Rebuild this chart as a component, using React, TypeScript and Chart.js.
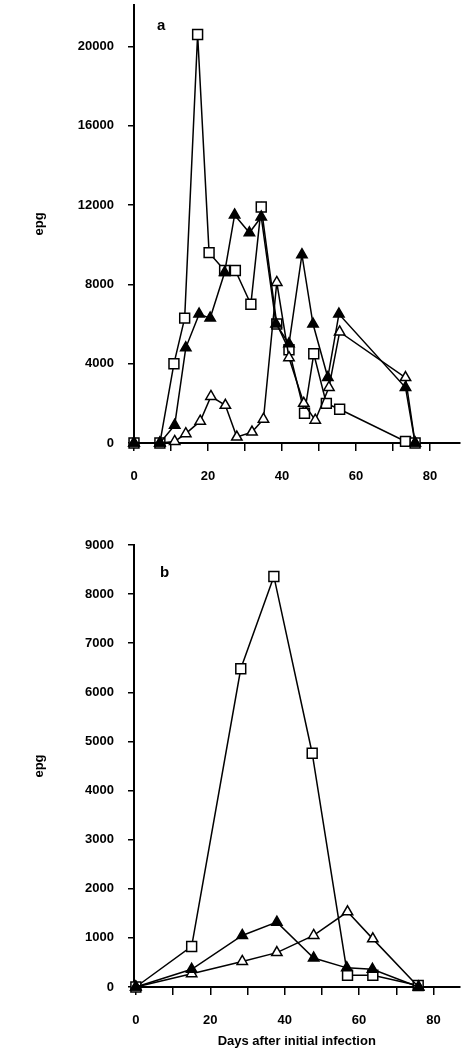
import { useEffect, useRef } from "react"
import { Chart, registerables } from "chart.js"

Chart.register(...registerables)

// Panel a
const aSquareDays = [0, 7, 10.8, 13.7, 17.2, 20.3, 24.5, 27.4, 31.6, 34.4, 38.6, 41.9, 46.1, 48.6, 52, 55.6, 73.4, 76]
const aSquareEpg = [0, 0, 4000, 6300, 20600, 9600, 8700, 8700, 7000, 11900, 6000, 4700, 1500, 4500, 2000, 1700, 80, 0]
const aFilledDays = [0, 7, 11, 14, 17.6, 20.6, 24.5, 27.2, 31.2, 34.4, 38.4, 41.9, 45.4, 48.4, 52.4, 55.4, 73.4, 76]
const aFilledEpg = [0, 0, 900, 4800, 6500, 6300, 8600, 11500, 10600, 11400, 6000, 5000, 9500, 6000, 3300, 6500, 2800, 0]
const aOpenDays = [0, 7, 11, 14, 17.9, 20.8, 24.7, 27.8, 31.9, 35, 38.6, 41.9, 45.9, 49, 52.7, 55.6, 73.4, 76]
const aOpenEpg = [0, 0, 80, 470, 1100, 2350, 1900, 300, 550, 1200, 8100, 4300, 2000, 1150, 2800, 5600, 3300, 0]

// Panel b
const bSquareDays = [0, 15, 28.2, 37.1, 47.4, 56.9, 63.7, 75.9]
const bSquareEpg = [0, 826, 6480, 8360, 4760, 240, 240, 30]
const bFilledDays = [0, 15, 28.6, 37.9, 47.8, 56.7, 63.6, 76]
const bFilledEpg = [0, 360, 1050, 1320, 590, 390, 360, 0]
const bOpenDays = [0, 15, 28.6, 37.9, 47.8, 56.9, 63.7, 76]
const bOpenEpg = [0, 270, 520, 700, 1050, 1530, 980, 0]

const xTicks = [0, 10, 20, 30, 40, 50, 60, 70, 80]

const font = { family: "Liberation Sans", weight: "bold" as const, size: 13 }

const pts = (xs: number[], ys: number[]) => xs.map((x, i) => ({ x, y: ys[i] }))

function sets(sx: number[], sy: number[], fx: number[], fy: number[], ox: number[], oy: number[]) {
  const base = { borderColor: "#000", borderWidth: 1.5, pointBorderWidth: 1.5, pointBorderColor: "#000", showLine: true, tension: 0, clip: false }
  return [
    { ...base, data: pts(fx, fy), pointStyle: "triangle", pointRadius: 6, pointBackgroundColor: "#000" },
    { ...base, data: pts(ox, oy), pointStyle: "triangle", pointRadius: 6, pointBackgroundColor: "#fff" },
    { ...base, data: pts(sx, sy), pointStyle: "rect", pointRadius: 7, pointBackgroundColor: "#fff" },
  ]
}

function Panel(props: {
  datasets: any[]
  xMin: number
  xMax: number
  yMax: number
  yStep: number
  letter: string
  letterPos: [number, number]
  padTop: number
  padBottom: number
  xHeight: number
  xTitle?: string
  height: number
  top: number
}) {
  const ref = useRef<HTMLCanvasElement>(null)
  useEffect(() => {
    if (!ref.current) return
    const letterPlugin = {
      id: "letter",
      afterDraw(chart: any) {
        const c = chart.ctx
        c.save()
        c.font = "bold 15px 'Liberation Sans'"
        c.fillStyle = "#000"
        c.fillText(props.letter, props.letterPos[0], props.letterPos[1])
        c.restore()
      },
    }
    const chart = new Chart(ref.current, {
      type: "scatter",
      data: { datasets: props.datasets },
      plugins: [letterPlugin],
      options: {
        animation: false,
        responsive: false,
        layout: { padding: { left: 28, top: props.padTop, right: 8, bottom: props.padBottom } },
        plugins: { legend: { display: false }, tooltip: { enabled: false } },
        scales: {
          x: {
            type: "linear",
            min: props.xMin,
            max: props.xMax,
            afterFit: (s: any) => { s.height = props.xHeight },
            afterBuildTicks: (s: any) => {
              s.ticks = xTicks.map((v) => ({ value: v }))
            },
            ticks: { color: "#000", font, padding: 18, callback: (v: any) => (v % 20 === 0 ? String(v) : "") },
            grid: { drawOnChartArea: false, color: "#000", tickLength: 8, lineWidth: 1.5 },
            border: { color: "#000", width: 2 },
            title: props.xTitle ? { display: true, text: props.xTitle, color: "#000", font, padding: 0 } : { display: false },
          },
          y: {
            min: 0,
            max: props.yMax,
            afterFit: (s: any) => { s.width = 106 },
            afterBuildTicks: (s: any) => {
              const t = []
              for (let v = 0; v <= props.yMax; v += props.yStep) t.push({ value: v })
              s.ticks = t
            },
            ticks: { color: "#000", font, padding: 14, callback: (v: any) => String(v) },
            grid: { drawOnChartArea: false, color: "#000", tickLength: 6, lineWidth: 1.5 },
            border: { color: "#000", width: 2 },
            title: { display: true, text: "epg", color: "#000", font },
          },
        },
      } as any,
    })
    return () => chart.destroy()
  }, [])
  return (
    <canvas
      ref={ref}
      width={468}
      height={props.height}
      style={{ position: "absolute", left: 0, top: props.top, width: 468, height: props.height }}
    />
  )
}

export default function App() {
  return (
    <div style={{ position: "fixed", left: 0, top: 0, width: 468, height: 1063, background: "#fff", overflow: "hidden" }}>
      <Panel
        datasets={sets(aSquareDays, aSquareEpg, aFilledDays, aFilledEpg, aOpenDays, aOpenEpg)}
        xMin={0}
        xMax={88}
        yMax={22100}
        yStep={4000}
        letter="a"
        letterPos={[157, 47]}
        padTop={0}
        padBottom={0}
        xHeight={57}
        height={517}
        top={-17}
      />
      <Panel
        datasets={sets(bSquareDays, bSquareEpg, bFilledDays, bFilledEpg, bOpenDays, bOpenEpg)}
        xMin={-0.5}
        xMax={87}
        yMax={9000}
        yStep={1000}
        letter="b"
        letterPos={[160, 77]}
        padTop={45}
        padBottom={14}
        xHeight={62}
        xTitle="Days after initial infection"
        height={563}
        top={500}
      />
    </div>
  )
}
